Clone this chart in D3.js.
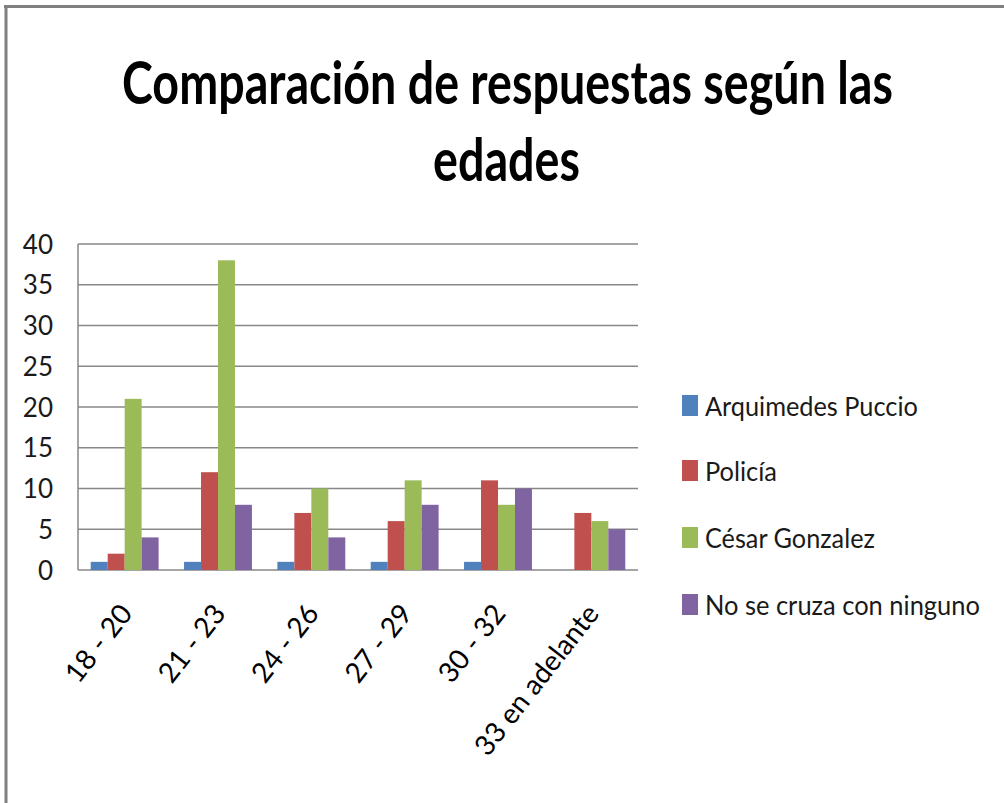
<!DOCTYPE html>
<html><head><meta charset="utf-8">
<script src="https://cdn.jsdelivr.net/npm/d3@7"></script>
<style>body{margin:0;background:#fff}svg{display:block}</style>
</head><body>
<svg id="c" width="1004" height="803"></svg>
<script>
const categories = ["18 - 20","21 - 23","24 - 26","27 - 29","30 - 32","33 en adelante"];
const seriesNames = ["Arquimedes Puccio","Policía","César Gonzalez","No se cruza con ninguno"];
const arquimedes = [1,1,1,1,1,0];
const policia = [2,12,7,6,11,7];
const cesar = [21,38,10,11,8,6];
const ninguno = [4,8,4,8,10,5];
const colors = ["#4F81BD","#C0504D","#9BBB59","#8064A2"];
const yTicks = [0,5,10,15,20,25,30,35,40];
const titleLines = ["Comparación de respuestas según las","edades"];

const seriesVals = [arquimedes, policia, cesar, ninguno];
const svg = d3.select("#c");
const FONT = "Lato, 'Open Sans', sans-serif";

// frame
svg.append("line").attr("x1",4).attr("x2",1004).attr("y1",6.5).attr("y2",6.5).attr("stroke","#808080").attr("stroke-width",3);
svg.append("line").attr("x1",6).attr("x2",6).attr("y1",5).attr("y2",803).attr("stroke","#808080").attr("stroke-width",3);

// condensed text helper: fits text to a target width
function fitText(sel, target){
  const w = sel.node().getComputedTextLength();
  return target / w;
}

// title
const tw = [771, 147];
const tcx = [507.5, 506.5];
const ty = [104, 181];
titleLines.forEach((t,i)=>{
  const el = svg.append("text").attr("x",0).attr("y",0).attr("text-anchor","middle")
    .attr("font-family",FONT).attr("font-weight","bold")
    .attr("font-size",60).attr("fill","#000").text(t);
  el.attr("transform",`translate(${tcx[i]},${ty[i]}) scale(${fitText(el,tw[i])},1)`);
});

const L=78, R=638, T=244, B=570;
const x0 = d3.scaleBand().domain(categories).range([L,R]).paddingInner(0).paddingOuter(0);
const barW = x0.bandwidth()/5.5;
const y = d3.scaleLinear().domain([0,40]).range([B,T]);

// gridlines
svg.append("g").selectAll("line").data(yTicks).join("line")
  .attr("x1",L).attr("x2",R).attr("y1",d=>y(d)).attr("y2",d=>y(d))
  .attr("stroke","#878787").attr("stroke-width",1.5);
svg.append("line").attr("x1",L).attr("x2",L).attr("y1",T).attr("y2",B).attr("stroke","#878787").attr("stroke-width",1.5);

// y labels
svg.append("g").selectAll("text").data(yTicks).join("text")
  .attr("x",53).attr("y",d=>y(d)+9.5).attr("text-anchor","end")
  .attr("font-family",FONT).attr("font-size",26).attr("fill","#1a1a1a").text(d=>d);

// bars
const data = [];
categories.forEach((c,ci)=>seriesVals.forEach((s,si)=>data.push({c,si,v:s[ci]})));
svg.append("g").selectAll("rect").data(data.filter(d=>d.v>0)).join("rect")
  .attr("x",d=>x0(d.c)+barW*0.75+d.si*barW).attr("width",barW)
  .attr("y",d=>y(d.v)).attr("height",d=>y(0)-y(d.v))
  .attr("fill",d=>colors[d.si]);

// x labels
svg.append("g").selectAll("text").data(categories).join("text")
  .attr("transform",d=>`translate(${x0(d)+x0.bandwidth()/2+9},${614}) rotate(-52)`)
  .attr("text-anchor","end").attr("font-family",FONT).attr("font-size",28).attr("fill","#000").text(d=>d);

// legend
const ly = [406,471,538,605];
const lw = [213, 72, 170, 275];
const lg = svg.append("g").selectAll("g").data(seriesNames).join("g");
lg.append("rect").attr("x",682).attr("y",(d,i)=>ly[i]-11).attr("width",16).attr("height",21).attr("fill",(d,i)=>colors[i]);
lg.append("text").attr("x",0).attr("y",0).attr("font-family",FONT).attr("font-size",27).attr("fill","#1a1a1a").text(d=>d)
  .each(function(d,i){
    const s = d3.select(this);
    s.attr("transform",`translate(705,${ly[i]+10}) scale(${fitText(s,lw[i])},1)`);
  });
</script>
</body></html>
